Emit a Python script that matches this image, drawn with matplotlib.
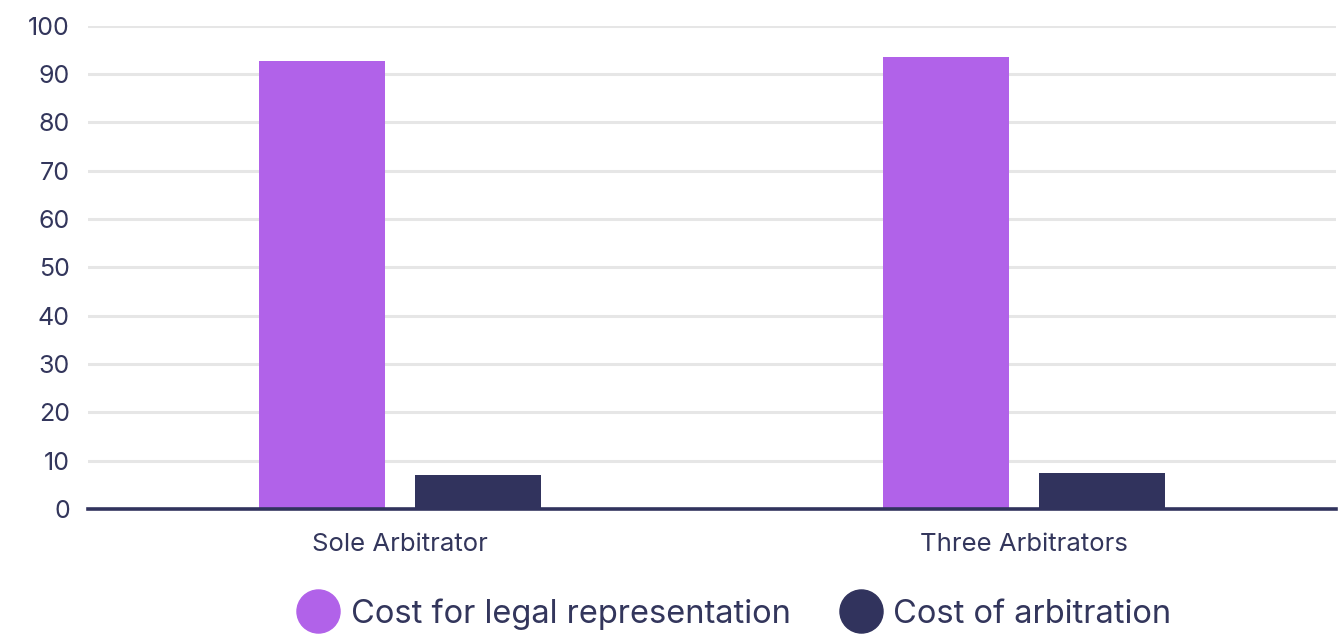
import numpy as np
import matplotlib
matplotlib.use("Agg")
import matplotlib.pyplot as plt
from matplotlib.lines import Line2D

plt.rcParams['font.family'] = ['Inter', 'DejaVu Sans']

# Share of total arbitration costs (%)
categories = ['Sole Arbitrator', 'Three Arbitrators']
legal_costs = [92.7, 93.5]
arbitration_costs = [7.0, 7.4]
series_names = ['Cost for legal representation', 'Cost of arbitration']

purple = '#b162e9'
navy = '#31335d'
text_color = '#33365c'

fig = plt.figure(figsize=(13.41, 6.35), dpi=100)
ax = fig.add_axes([0.0656, 0.1984, 0.9307, 0.7614])

x = np.arange(len(categories))
width = 0.203
ax.bar(x - 0.125, legal_costs, width, color=purple, zorder=3)
ax.bar(x + 0.125, arbitration_costs, width, color=navy, zorder=3)

ax.set_xlim(-0.5, 1.5)
ax.set_ylim(0, 100)
ax.set_yticks(np.arange(0, 101, 10))
ax.set_xticks(x)
ax.set_xticklabels(categories)

ax.yaxis.grid(True, color='#e6e6e6', linewidth=2.2, zorder=0)
ax.set_axisbelow(True)
for side in ['top', 'right', 'left']:
    ax.spines[side].set_visible(False)
ax.spines['bottom'].set_color(navy)
ax.spines['bottom'].set_linewidth(2.6)
ax.spines['bottom'].set_zorder(4)

ax.tick_params(axis='y', length=0, pad=13, labelsize=18, labelcolor=text_color)
ax.tick_params(axis='x', length=0, pad=17, labelsize=18.5, labelcolor=text_color)

handles = [Line2D([], [], marker='o', linestyle='none', markersize=31,
                  markerfacecolor=c, markeredgecolor=c)
           for c in [purple, navy]]
fig.legend(handles, series_names, loc='center', bbox_to_anchor=(0.548, 0.033),
           ncol=2, frameon=False, fontsize=23.5, labelcolor=text_color,
           handletextpad=0.4, columnspacing=1.55, handlelength=1.2)

fig.savefig('out.png', dpi=100)
